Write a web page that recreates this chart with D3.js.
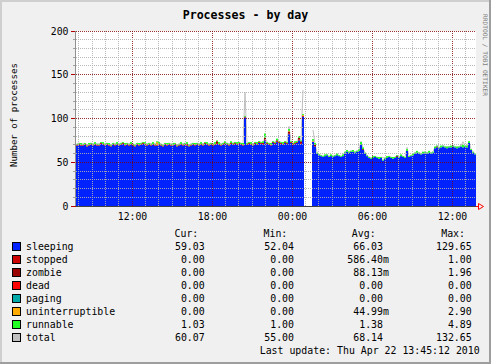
<!DOCTYPE html>
<html><head><meta charset="utf-8">
<script src="https://cdn.jsdelivr.net/npm/d3@7"></script>
<style>
body{margin:0;background:#f0f0f0}
svg{display:block}
text{font-family:"DejaVu Sans Mono",monospace}
</style>
</head><body>
<svg id="c" width="491" height="364"></svg>
<script>
// ---------- DATA (30 hours, one sample per 9 minutes, 200 samples) ----------
const startTime = Date.UTC(2010, 3, 21, 7, 49);
const stepMin = 9;

const sleeping = [
 69,70,69,69,70,68,69,70,69,70,69,69,71,70,69,70,69,68,70,69,
 70,69,70,71,69,70,69,70,69,68,70,69,70,71,70,69,70,69,70,69,
 69,70,69,68,70,69,70,69,69,70,68,69,70,69,70,69,68,69,70,69,
 70,69,70,69,71,70,69,70,69,70,71,70,69,70,71,70,69,71,70,71,
 70,71,70,69,101,70,71,70,69,71,70,72,71,70,75,71,70,69,72,71,
 73,72,71,70,72,71,82,72,70,71,72,75,71,102,null,null,null,null,73.5,68,
 60,58,57,56,57,58,56,57,56,57,58,57,56,57,61,62,61,62,62,61,
 62,63,70,64,60,57,55,54,55,56,55,54,55,52.04,54,55,56,55,54,55,
 56,55,57,56,55,63,56,57,58,60,61,60,59,60,61,60,61,60,61,66,
 67,66,67,68,67,66,67,67,68,67,66,67,68,67,68,67,72,64,61,59.03
];
const stopped = [
 1,1,1,1,1,1,1,1,1,1,1,1,1,1,1,1,1,1,1,1,
 1,1,1,1,1,1,1,1,1,1,1,1,1,1,1,1,1,1,1,1,
 1,1,1,1,1,1,1,1,1,1,1,1,1,1,1,1,1,1,1,1,
 1,1,1,1,1,1,1,1,1,1,1,1,1,1,1,1,1,1,1,1,
 1,1,1,1,1,1,1,1,1,1,1,1,1,1,1,1,1,1,1,1,
 1,1,1,1,1,1,1,1,1,1,1,1,1,1,null,null,null,null,0,0,
 0,0,0,0,0,0,0,0,0,0,0,0,0,0,0,0,0,0,0,0,
 0,0,0,0,0,0,0,0,0,0,0,0,0,0,0,0,0,0,0,0,
 0,0,0,0,0,0,0,0,0,0,0,0,0,0,0,0,0,0,0,0,
 0,0,0,0,0,0,0,0,0,0,0,0,0,0,0,0,0,0,0,0
];
const zombie = [
 0,0,0,0,0,0,0,0,0,0,0,0,0,0,0,0,0,0,0,0,
 0,0,0,0,0,0,0,0,0,0,0,0,0,0,0,0,0,0,0,0,
 0,0,0,0,0,0,0,0,0,0,0,0,0,0,0,1,0,0,0,0,
 0,0,0,0,0,0,0,0,0,0,2,0,0,0,0,0,0,0,0,0,
 0,0,0,0,0,0,0,0,0,0,0,0,0,1,2,0,0,0,0,0,
 1,0,0,0,0,0,2,0,0,0,0,2,1.96,0,null,null,null,null,0,2,
 0,0,0,0,0,0,0,0,0,0,0,0,0,0,0,0,0,0,0,0,
 0,0,0,1,0,0,0,0,0,0,0,0,0,0,0,0,0,0,0,0,
 1,0,0,0,0,0,0,0,0,0,0,0,0,0,0,0,0,0,0,0,
 1,0,0,0,0,0,0,0,0,0,0,0,0,0,0,0,0,0,0,0
];
const dead = [
 0,0,0,0,0,0,0,0,0,0,0,0,0,0,0,0,0,0,0,0,
 0,0,0,0,0,0,0,0,0,0,0,0,0,0,0,0,0,0,0,0,
 0,0,0,0,0,0,0,0,0,0,0,0,0,0,0,0,0,0,0,0,
 0,0,0,0,0,0,0,0,0,0,0,0,0,0,0,0,0,0,0,0,
 0,0,0,0,0,0,0,0,0,0,0,0,0,0,0,0,0,0,0,0,
 0,0,0,0,0,0,0,0,0,0,0,0,0,0,null,null,null,null,0,0,
 0,0,0,0,0,0,0,0,0,0,0,0,0,0,0,0,0,0,0,0,
 0,0,0,0,0,0,0,0,0,0,0,0,0,0,0,0,0,0,0,0,
 0,0,0,0,0,0,0,0,0,0,0,0,0,0,0,0,0,0,0,0,
 0,0,0,0,0,0,0,0,0,0,0,0,0,0,0,0,0,0,0,0
];
const paging = [
 0,0,0,0,0,0,0,0,0,0,0,0,0,0,0,0,0,0,0,0,
 0,0,0,0,0,0,0,0,0,0,0,0,0,0,0,0,0,0,0,0,
 0,0,0,0,0,0,0,0,0,0,0,0,0,0,0,0,0,0,0,0,
 0,0,0,0,0,0,0,0,0,0,0,0,0,0,0,0,0,0,0,0,
 0,0,0,0,0,0,0,0,0,0,0,0,0,0,0,0,0,0,0,0,
 0,0,0,0,0,0,0,0,0,0,0,0,0,0,null,null,null,null,0,0,
 0,0,0,0,0,0,0,0,0,0,0,0,0,0,0,0,0,0,0,0,
 0,0,0,0,0,0,0,0,0,0,0,0,0,0,0,0,0,0,0,0,
 0,0,0,0,0,0,0,0,0,0,0,0,0,0,0,0,0,0,0,0,
 0,0,0,0,0,0,0,0,0,0,0,0,0,0,0,0,0,0,0,0
];
const uninterruptible = [
 0,0,0,0,0,0,0,0,0,0,0,0,0,0,0,0,0,0,0,0,
 0,0,0,0,0,0,0,0,0,0,0,0,0,0,0,0,0,0,0,0,
 2.9,0,0,0,0,0,0,0,0,0,0,0,0,0,0,0,0,0,0,0,
 0,0,0,0,0,0,0,0,0,0,0,0,0,0,0,0,0,0,0,0,
 0,0,0,0,0,0,0,0,0,0,0,0,0,0,0,0,0,0,0,0,
 0,0,0,0,0,0,1,0,0,0,0,0,0,1,null,null,null,null,1,0,
 0,0,0,0,0,0,0,0,0,0,0,0,0,0,0,0,0,0,0,0,
 0,0,0,0,0,0,0,0,0,0,0,0,0,0,0,0,0,0,0,0,
 0,0,0,0,0,0,0,0,0,0,0,0,0,0,0,0,0,0,0,0,
 0,0,0,0,0,0,0,0,0,0,0,0,0,0,0,0,0,0,0,0
];
const runnable = [
 1,1,2,1,1,1,2,1,1,2,1,1,1,2,1,1,2,1,1,1,
 2,1,1,1,2,1,1,2,1,1,1,2,1,1,2,1,1,1,2,1,
 1,2,1,1,1,2,1,1,2,1,1,1,2,1,1,2,1,1,1,2,
 1,1,2,1,1,2,1,1,1,2,1,2,1,1,2,1,1,2,1,1,
 2,1,1,2,1,1,1,2,1,1,2,1,1,2,4.89,1,1,2,1,1,
 2,1,1,2,1,1,2,1,1,2,1,2,1,1,null,null,null,null,2,2,
 1,1,1,1,2,1,1,2,1,1,2,1,1,2,1,2,1,1,2,1,
 1,2,3,2,1,1,1,1,2,1,1,2,1,1,1,2,1,1,2,1,
 1,1,2,1,1,2,1,1,2,1,2,1,1,2,1,1,2,1,1,2,
 1,1,2,1,1,2,1,2,1,1,2,1,1,3,1,2,2,1,1,1.03
];
const total = [
 71,72,71,71,72,70,71,72,71,72,71,71,73,72,71,72,71,70,72,71,
 72,71,72,73,71,72,71,72,71,70,72,71,72,73,72,71,72,71,72,71,
 71,72,71,70,72,71,72,71,71,72,70,71,72,71,72,71,70,71,72,71,
 72,71,72,71,73,72,71,72,71,72,73,72,71,72,73,72,71,73,72,73,
 72,73,72,71,130,72,73,72,71,73,72,74,73,72,78,73,72,71,74,73,
 76,74,73,72,74,73,91,74,72,73,74,79,75,132.65,null,null,null,null,87,71,
 61,59,58,57,58,59,57,58,57,58,59,58,57,58,62,63,62,63,63,62,
 63,64,74,66,61,58,56,55,56,57,56,55,56,55,55,56,57,56,55,56,
 58,56,58,57,56,67,57,58,59,61,62,61,60,61,62,61,62,61,62,67,
 69,67,68,69,68,67,68,68,69,68,67,68,69,73.5,69,68,74,65,62,60.07
];

const seriesNames = ["sleeping","stopped","zombie","dead","paging","uninterruptible","runnable","total"];
const seriesColors = ["#0022ff","#cc0000","#990000","#ff0000","#00aaaa","#ffaa00","#22ff22","#c0c0c0"];
const statCur = ["59.03","0.00","0.00","0.00","0.00","0.00","1.03","60.07"];
const statMin = ["52.04","0.00","0.00","0.00","0.00","0.00","1.00","55.00"];
const statAvg = ["66.03","586.40m","88.13m","0.00","0.00","44.99m","1.38","68.14"];
const statMax = ["129.65","1.00","1.96","0.00","0.00","2.90","4.89","132.65"];
const yTicks = [0,50,100,150,200];
const titleText = "Processes - by day";
const yLabel = "Number of processes";
const lastUpdate = "Last update: Thu Apr 22 13:45:12 2010";

// ---------- DRAW ----------
const W = 491, H = 364;
const svg = d3.select("#c");
svg.append("rect").attr("width", W).attr("height", H).attr("fill", "#f0f0f0");
// 3D frame
svg.append("rect").attr("x",0).attr("y",0).attr("width",W).attr("height",2).attr("fill","#cfcfcf");
svg.append("rect").attr("x",0).attr("y",0).attr("width",2).attr("height",H).attr("fill","#cfcfcf");
svg.append("rect").attr("x",0).attr("y",H-2).attr("width",W).attr("height",2).attr("fill","#9e9e9e");
svg.append("rect").attr("x",W-2).attr("y",0).attr("width",2).attr("height",H).attr("fill","#9e9e9e");

const L = 76, R = 476, T = 31, B = 206;
const n = sleeping.length;
const t0 = new Date(startTime), t1 = new Date(startTime + n * stepMin * 60000);
const x = d3.scaleUtc().domain([t0, t1]).range([L, R]);
const y = d3.scaleLinear().domain([0, 200]).range([B, T]);

svg.append("rect").attr("x", L).attr("y", T).attr("width", R - L).attr("height", B - T).attr("fill", "#ffffff");

const stackKeys = seriesNames.slice(0, 7);
const stackArrays = [sleeping, stopped, zombie, dead, paging, uninterruptible, runnable];
const rows = sleeping.map((s, i) => {
  const r = { t: new Date(startTime + i * stepMin * 60000), t2: new Date(startTime + (i + 1) * stepMin * 60000), ok: s != null, total: total[i] };
  stackKeys.forEach((k, j) => r[k] = stackArrays[j][i]);
  return r;
});

// total line (drawn behind the stacked areas)
const totalLine = d3.line()
  .defined(d => d.total != null)
  .x(d => (x(d.t) + x(d.t2)) / 2)
  .y(d => y(d.total));
svg.append("path").datum(rows).attr("d", totalLine)
  .attr("fill", "none").attr("stroke", seriesColors[7]).attr("stroke-width", 1);

const stack = d3.stack().keys(stackKeys).value((d, k) => d[k] == null ? 0 : d[k]);
const layers = stack(rows);
layers.forEach((layer, li) => {
  const g = svg.append("g").attr("fill", seriesColors[li]);
  g.selectAll("rect").data(layer.filter(p => p.data.ok && p[1] > p[0])).join("rect")
    .attr("x", p => x(p.data.t))
    .attr("width", p => x(p.data.t2) - x(p.data.t))
    .attr("y", p => y(p[1]))
    .attr("height", p => y(p[0]) - y(p[1]));
});

// grid (on top of data)
const grid = svg.append("g").attr("fill", "none").attr("stroke-width", 1)
  .attr("stroke-dasharray", "1,1").attr("shape-rendering", "crispEdges");
const hours = x.ticks(d3.utcHour.every(1)).filter(d => x(d) > L + 0.5 && x(d) < R);
hours.forEach(d => {
  const major = d.getUTCHours() % 6 === 0;
  const px = Math.round(x(d)) + 0.5;
  grid.append("line").attr("x1", px).attr("x2", px).attr("y1", T).attr("y2", B)
    .attr("stroke", major ? "#800000" : "#b0b0b0").attr("stroke-opacity", major ? 0.8 : 0.9);
});
d3.range(10, 201, 10).forEach(v => {
  const major = v % 50 === 0;
  const py = Math.floor(y(v)) + 0.5;
  grid.append("line").attr("x1", L).attr("x2", R).attr("y1", py).attr("y2", py)
    .attr("stroke", major ? "#800000" : "#b0b0b0").attr("stroke-opacity", major ? 0.8 : 0.9);
  svg.append("line").attr("x1", major ? 71 : 73).attr("x2", L).attr("y1", py).attr("y2", py)
    .attr("stroke", major ? "#b00000" : "#a0a0a0");
});
// axes
svg.append("line").attr("x1", L - 0.5).attr("x2", L - 0.5).attr("y1", T).attr("y2", B + 1).attr("stroke", "#909090");
svg.append("line").attr("x1", 71).attr("x2", L).attr("y1", B + 0.5).attr("y2", B + 0.5).attr("stroke", "#b00000");
svg.append("line").attr("x1", L).attr("x2", R).attr("y1", B + 0.5).attr("y2", B + 0.5).attr("stroke", "#404040");
svg.append("line").attr("x1", R).attr("x2", 479).attr("y1", B + 0.5).attr("y2", B + 0.5).attr("stroke", "#ff0000");
svg.append("path").attr("d", `M478.5,${B - 2.5}L483.5,${B + 0.5}L478.5,${B + 3.5}Z`)
  .attr("fill", "none").attr("stroke", "#ff0000");

// y tick labels
svg.append("g").selectAll("text").data(yTicks).join("text")
  .attr("x", 68.5).attr("y", v => Math.floor(y(v)) + 4)
  .attr("text-anchor", "end").attr("font-size", "9.8px").attr("fill", "#000")
  .text(v => v);
// x tick labels
const majorHours = x.ticks(d3.utcHour.every(6)).filter(d => x(d) > L && x(d) < R);
svg.append("g").selectAll("text").data(majorHours).join("text")
  .attr("x", d => Math.round(x(d)) + 0.5).attr("y", 219.5)
  .attr("text-anchor", "middle").attr("font-size", "9.8px").attr("fill", "#000")
  .text(d3.utcFormat("%H:%M"));

// title
svg.append("text").attr("x", 245.5).attr("y", 19).attr("text-anchor", "middle")
  .attr("font-size", "11.6px").attr("font-weight", "bold").attr("fill", "#000").text(titleText);
// y label
svg.append("text").attr("transform", "translate(16.5,115) rotate(-90)").attr("text-anchor", "middle")
  .attr("font-size", "9.1px").attr("fill", "#000").text(yLabel);
// watermark
svg.append("text").attr("transform", "translate(482.5,14) rotate(90)").attr("text-anchor", "start")
  .attr("font-size", "6.2px").attr("fill", "#808080").text("RRDTOOL / TOBI OETIKER");

// legend
const lg = svg.append("g").attr("font-size", "9.9px").attr("fill", "#000");
const colEnds = [204.7, 294, 383, 471.7];
const headEnds = [198.3, 287.3, 375.6, 465];
["Cur:", "Min:", "Avg:", "Max:"].forEach((h, j) => {
  lg.append("text").attr("x", headEnds[j]).attr("y", 237).attr("text-anchor", "end").text(h);
});
const stats = [statCur, statMin, statAvg, statMax];
seriesNames.forEach((name, k) => {
  const by = 250 + 13.05 * k;
  lg.append("rect").attr("x", 12.5).attr("y", Math.round(by) - 7.5).attr("width", 8).attr("height", 8)
    .attr("fill", seriesColors[k]).attr("stroke", "#000").attr("stroke-width", 1);
  lg.append("text").attr("x", 26).attr("y", by).text(name);
  stats.forEach((arr, j) => {
    const s = arr[k];
    const m = s.endsWith("m");
    lg.append("text").attr("x", colEnds[j]).attr("y", by).attr("text-anchor", "end").text(m ? s.slice(0, -1) : s);
    if (m) lg.append("text").attr("x", colEnds[j]).attr("y", by).text("m");
  });
});
lg.append("text").attr("x", 479.7).attr("y", 354).attr("text-anchor", "end").text(lastUpdate);
</script>
</body></html>
